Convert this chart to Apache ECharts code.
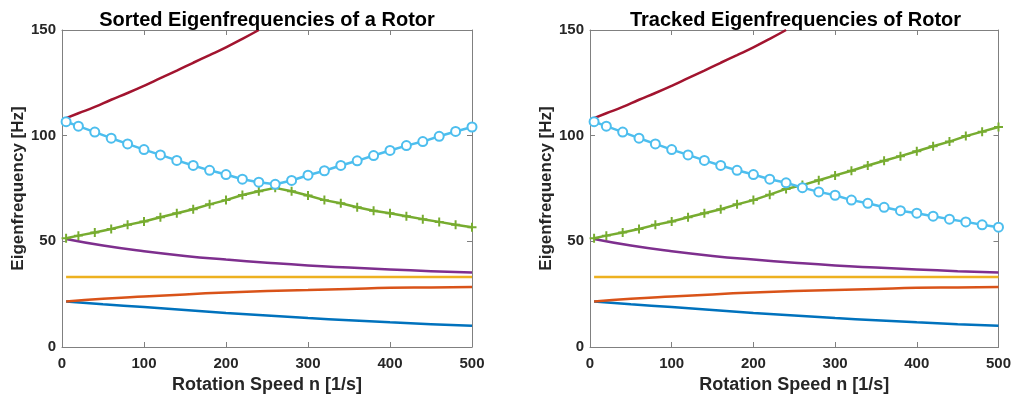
<!DOCTYPE html>
<html>
<head>
<meta charset="utf-8">
<script src="https://cdn.jsdelivr.net/npm/echarts@6/dist/echarts.min.js"></script>
<style>
html,body{margin:0;padding:0;background:#fff;}
#chart{width:1014px;height:399px;}
</style>
</head>
<body>
<div id="chart"></div>
<script>
// ---- data ----
const titles = ["Sorted Eigenfrequencies of a Rotor", "Tracked Eigenfrequencies of Rotor"];
const xLabel = "Rotation Speed n [1/s]";
const yLabel = "Eigenfrequency [Hz]";
const xTicks = [0, 100, 200, 300, 400, 500];
const yTicks = [0, 50, 100, 150];

const xLine = [5, 50, 100, 150, 200, 250, 300, 350, 400, 450, 500];
const mode1 = [21.5, 20.2, 18.9, 17.5, 16.1, 14.9, 13.7, 12.7, 11.7, 10.8, 10.0];
const mode2 = [21.5, 22.8, 23.9, 24.9, 25.8, 26.5, 27.0, 27.5, 28.0, 28.2, 28.4];
const mode3 = [33.1, 33.1, 33.1, 33.1, 33.1, 33.1, 33.1, 33.1, 33.1, 33.1, 33.1];
const mode4 = [51.1, 48.0, 45.3, 43.1, 41.4, 39.9, 38.6, 37.6, 36.7, 35.9, 35.3];

const xRed = [5, 20, 40, 60, 80, 100, 120, 140, 160, 180, 200, 220, 240];
const mode7 = [108.3, 110.6, 113.6, 117.0, 120.2, 123.6, 127.2, 130.8, 134.5, 138.1, 141.8, 145.8, 150.0];

const xMark = [5, 20, 40, 60, 80, 100, 120, 140, 160, 180, 200, 220, 240, 260, 280, 300, 320, 340, 360, 380, 400, 420, 440, 460, 480, 500];
// sorted plot
const sortedLow  = [51.5, 52.7, 54.2, 55.8, 57.8, 59.4, 61.4, 63.3, 65.2, 67.5, 69.5, 71.9, 73.7, 75.3, 73.7, 71.7, 69.5, 68.0, 66.1, 64.5, 63.3, 61.9, 60.5, 59.2, 57.8, 56.7];
const sortedHigh = [106.6, 104.5, 101.7, 98.8, 96.1, 93.4, 90.9, 88.3, 85.9, 83.6, 81.6, 79.4, 78.0, 77.0, 78.8, 81.3, 83.4, 85.9, 88.1, 90.6, 93.0, 95.3, 97.2, 99.7, 102.0, 104.1];
// tracked plot
const trackedGreen = [51.5, 52.7, 54.2, 55.8, 57.8, 59.4, 61.4, 63.3, 65.2, 67.5, 69.5, 72.1, 74.8, 76.6, 78.9, 81.2, 83.4, 85.9, 88.1, 90.3, 92.6, 95.0, 97.2, 99.8, 101.9, 104.1];
const trackedCyan  = [106.6, 104.5, 101.7, 98.8, 96.1, 93.4, 90.9, 88.3, 85.9, 83.6, 81.6, 79.4, 77.7, 75.4, 73.4, 71.8, 69.5, 68.0, 66.1, 64.5, 63.3, 61.9, 60.5, 59.2, 57.8, 56.7];

// ---- styling ----
const C = {blue:'#0072BD', orange:'#D95319', yellow:'#EDB120', purple:'#7E2F8E', green:'#77AC30', cyan:'#4DBEEE', red:'#A2142F'};
const FONT = 'Liberation Sans, Arial, Helvetica, sans-serif';
const AXC = '#808080';
const TXT = '#262626';
const plus = 'path://M3.9,0H6.1V3.9H10V6.1H6.1V10H3.9V6.1H0V3.9H3.9Z';

const grids = [
  {left: 62, top: 30, width: 410, height: 320},
  {left: 590, top: 30, width: 411, height: 320}
];

function zip(xs, ys){ return xs.map((x,i)=>[x, ys[i]]); }

const xAxes = [], yAxes = [], series = [], titleArr = [];
grids.forEach((g, gi) => {
  titleArr.push({
    text: titles[gi], left: g.left + g.width/2 - 5, top: 5, textAlign: 'center',
    textStyle: {fontFamily: FONT, fontSize: 20, fontWeight: 'bold', color: '#000'}
  });
  const baseX = {
    gridIndex: gi, type: 'value', min: 0, max: 500, interval: 100,
    axisLine: {show: true, onZero: false, lineStyle: {color: AXC, width: 1}},
    axisTick: {show: true, inside: true, length: 5, lineStyle: {color: AXC}},
    splitLine: {show: false}
  };
  xAxes.push(Object.assign({}, baseX, {
    position: 'bottom', name: xLabel, nameLocation: 'middle', nameGap: 29,
    nameTextStyle: {fontFamily: FONT, fontSize: 18, fontWeight: 'bold', color: TXT},
    axisLabel: {fontFamily: FONT, fontSize: 15, fontWeight: 'bold', color: TXT, margin: 9}
  }));
  xAxes.push(Object.assign({}, baseX, {position: 'top', axisLabel: {show: false}}));
  const baseY = {
    gridIndex: gi, type: 'value', min: 0, max: 150, interval: 50,
    axisLine: {show: true, onZero: false, lineStyle: {color: AXC, width: 1}},
    axisTick: {show: true, inside: true, length: 5, lineStyle: {color: AXC}},
    splitLine: {show: false}
  };
  yAxes.push(Object.assign({}, baseY, {
    position: 'left', name: yLabel, nameLocation: 'middle', nameGap: 30,
    nameTextStyle: {fontFamily: FONT, fontSize: 17, fontWeight: 'bold', color: TXT},
    axisLabel: {fontFamily: FONT, fontSize: 15, fontWeight: 'bold', color: TXT, margin: 6}
  }));
  yAxes.push(Object.assign({}, baseY, {position: 'right', axisLabel: {show: false}}));

  const xi = gi*2, yi = gi*2;
  const line = (data, color, extra) => Object.assign({
    type: 'line', xAxisIndex: xi, yAxisIndex: yi, data: data,
    showSymbol: false, symbol: 'none', smooth: true, clip: true,
    lineStyle: {color: color, width: 2.5}, itemStyle: {color: color}
  }, extra || {});
  series.push(line(zip(xLine, mode1), C.blue));
  series.push(line(zip(xLine, mode2), C.orange));
  series.push(line(zip(xLine, mode3), C.yellow, {smooth: false}));
  series.push(line(zip(xLine, mode4), C.purple));
  const greenData = gi === 0 ? sortedLow : trackedGreen;
  const cyanData  = gi === 0 ? sortedHigh : trackedCyan;
  series.push(line(zip(xMark, greenData), C.green, {
    smooth: false, showSymbol: true, symbol: plus, symbolSize: 9,
    itemStyle: {color: C.green}
  }));
  series.push(line(zip(xMark, cyanData), C.cyan, {
    smooth: false, showSymbol: true, symbol: 'emptyCircle', symbolSize: 9,
    itemStyle: {color: C.cyan, borderColor: C.cyan, borderWidth: 2}
  }));
  series.push(line(zip(xRed, mode7), C.red, {smooth: true}));
});

const chart = echarts.init(document.getElementById('chart'), null, {renderer: 'canvas'});
chart.setOption({
  animation: false,
  backgroundColor: '#fff',
  title: titleArr,
  grid: grids,
  xAxis: xAxes,
  yAxis: yAxes,
  series: series
});
</script>
</body>
</html>
